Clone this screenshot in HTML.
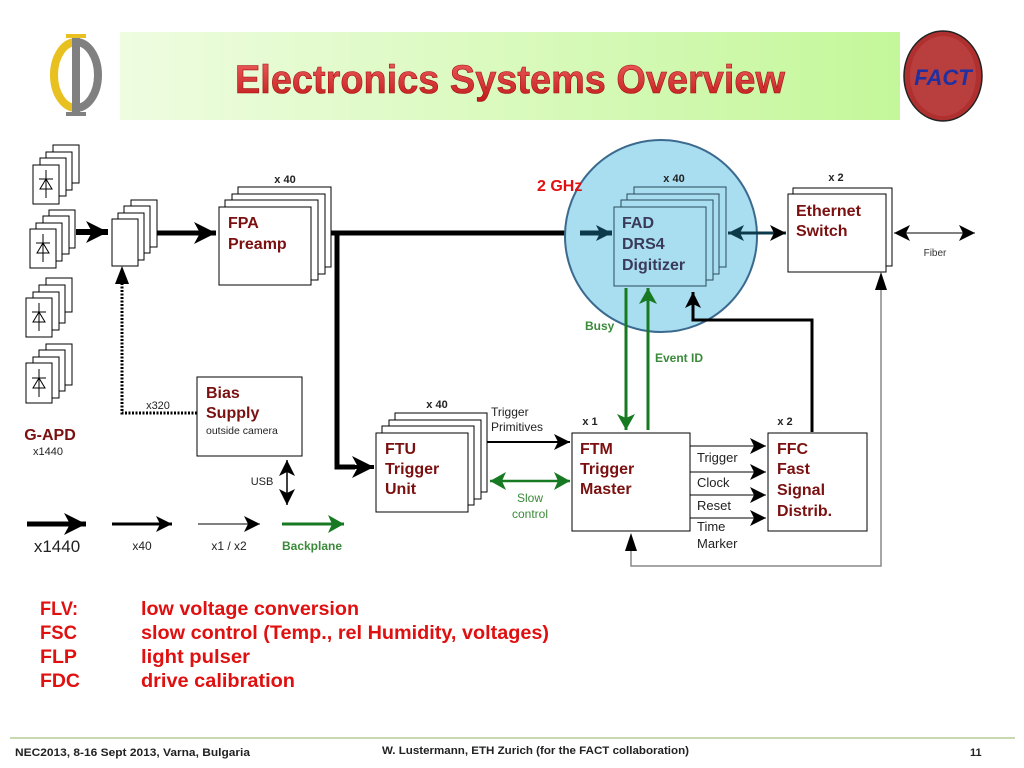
<!DOCTYPE html>
<html><head><meta charset="utf-8"><style>
html,body{margin:0;padding:0;background:#fff;width:1024px;height:768px;overflow:hidden}
svg{display:block}
text{font-family:"Liberation Sans",sans-serif}
</style></head><body>
<svg width="1024" height="768" viewBox="0 0 1024 768" xmlns="http://www.w3.org/2000/svg">
<defs>
<linearGradient id="hg" x1="0" y1="0" x2="1" y2="0">
<stop offset="0" stop-color="#eefce0"/><stop offset="1" stop-color="#c4f79a"/></linearGradient>
<linearGradient id="tg" x1="0" y1="0" x2="0" y2="1">
<stop offset="0" stop-color="#f06060"/><stop offset="1" stop-color="#c01818"/></linearGradient>
<marker id="ak" markerUnits="userSpaceOnUse" markerWidth="30" markerHeight="22" refX="22" refY="11" orient="auto-start-reverse"><path d="M0,0 L22,11 L0,22 L6,11z" fill="#000"/></marker>
<marker id="am" markerUnits="userSpaceOnUse" markerWidth="22" markerHeight="16" refX="16" refY="8" orient="auto-start-reverse"><path d="M0,0 L16,8 L0,16 L4,8z" fill="#000"/></marker>
<marker id="ad" markerUnits="userSpaceOnUse" markerWidth="22" markerHeight="16" refX="16" refY="8" orient="auto-start-reverse"><path d="M0,0 L16,8 L0,16 L4,8z" fill="#0d3a4a"/></marker>
<marker id="ag" markerUnits="userSpaceOnUse" markerWidth="22" markerHeight="18" refX="16" refY="9" orient="auto-start-reverse"><path d="M0,0 L16,9 L0,18 L4,9z" fill="#177a22"/></marker>
<g id="diode"><line x1="0" y1="-14" x2="0" y2="14" stroke="#000" stroke-width="1"/><line x1="-7" y1="-5" x2="7" y2="-5" stroke="#000"/><path d="M-6,5 L6,5 L0,-5z" fill="none" stroke="#000"/></g>
</defs>

<!-- header -->
<rect x="120" y="32" width="780" height="88" fill="url(#hg)"/>
<text x="510" y="93" text-anchor="middle" font-size="40" font-weight="bold" fill="url(#tg)" stroke="#a01010" stroke-width="0.6" textLength="550" lengthAdjust="spacingAndGlyphs">Electronics Systems Overview</text>
<!-- phi logo -->
<path d="M76,42 a22,33 0 0 0 0,66" fill="none" stroke="#e8c020" stroke-width="8"/>
<path d="M76,42 a22,33 0 0 1 0,66" fill="none" stroke="#808080" stroke-width="8"/>
<rect x="72" y="34" width="8" height="82" fill="#808080"/>
<rect x="66" y="34" width="20" height="4" fill="#e8c020"/>
<rect x="66" y="112" width="20" height="4" fill="#808080"/>
<!-- FACT logo -->
<ellipse cx="943" cy="76" rx="39" ry="45" fill="#b03030" stroke="#222" stroke-width="1.5"/>
<ellipse cx="943" cy="76" rx="33" ry="40" fill="#c04848" opacity="0.6"/>
<text x="943" y="85" text-anchor="middle" font-size="22" font-weight="bold" font-style="italic" fill="#2030a0">FACT</text>

<!-- APD stacks -->
<g fill="#fff" stroke="#000" stroke-width="1">
<rect x="53" y="145" width="26" height="38"/><rect x="46" y="152" width="26" height="38"/><rect x="40" y="158" width="26" height="38"/><rect x="33" y="165" width="26" height="39"/>
<rect x="49" y="210" width="26" height="38"/><rect x="43" y="216" width="26" height="38"/><rect x="36" y="223" width="26" height="38"/><rect x="30" y="229" width="26" height="39"/>
<rect x="46" y="278" width="26" height="34"/><rect x="39" y="285" width="26" height="38"/><rect x="33" y="292" width="26" height="38"/><rect x="26" y="298" width="26" height="39"/>
<rect x="46" y="344" width="26" height="41"/><rect x="39" y="350" width="26" height="41"/><rect x="33" y="357" width="26" height="41"/><rect x="26" y="363" width="26" height="40"/>
</g>
<use href="#diode" x="46" y="184"/><use href="#diode" x="43" y="248"/><use href="#diode" x="39" y="317"/><use href="#diode" x="39" y="383"/>
<text x="50" y="440" text-anchor="middle" font-size="16" font-weight="bold" fill="#7a1010">G-APD</text>
<text x="48" y="455" text-anchor="middle" font-size="11" fill="#222">x1440</text>

<!-- thick arrows -->
<line x1="76" y1="232" x2="108" y2="232" stroke="#000" stroke-width="6" marker-end="url(#ak)"/>
<g fill="#fff" stroke="#000"><rect x="131" y="200" width="26" height="47"/><rect x="124" y="206" width="26" height="47"/><rect x="118" y="213" width="26" height="47"/><rect x="112" y="219" width="26" height="47"/></g>
<line x1="157" y1="233" x2="216" y2="233" stroke="#000" stroke-width="5" marker-end="url(#ak)"/>
<!-- FPA -->
<g fill="#fff" stroke="#000"><rect x="238" y="187" width="93" height="80"/><rect x="232" y="194" width="93" height="80"/><rect x="225" y="200" width="93" height="80"/><rect x="219" y="207" width="92" height="78"/></g>
<text x="285" y="183" text-anchor="middle" font-size="11" font-weight="bold" fill="#222">x 40</text>
<text x="228" y="228" font-size="16" font-weight="bold" fill="#7a1010">FPA</text>
<text x="228" y="249" font-size="16" font-weight="bold" fill="#7a1010">Preamp</text>
<!-- main bus -->
<line x1="331" y1="233" x2="612" y2="233" stroke="#000" stroke-width="5"/>
<polyline points="337,233 337,467 355,467" fill="none" stroke="#000" stroke-width="5"/>
<line x1="350" y1="467" x2="374" y2="467" stroke="#000" stroke-width="4" marker-end="url(#ak)"/>
<!-- dotted bias -->
<polyline points="197,413 122,413 122,282" fill="none" stroke="#000" stroke-width="3" stroke-dasharray="2,1.5"/>
<path d="M115,284 L122,266 L129,284z" fill="#000"/>
<text x="158" y="409" text-anchor="middle" font-size="11" fill="#222">x320</text>
<rect x="197" y="377" width="105" height="79" fill="#fff" stroke="#000"/>
<text x="206" y="398" font-size="16" font-weight="bold" fill="#7a1010">Bias</text>
<text x="206" y="418" font-size="16" font-weight="bold" fill="#7a1010">Supply</text>
<text x="206" y="434" font-size="10.5" fill="#222">outside camera</text>
<line x1="287" y1="460" x2="287" y2="505" stroke="#000" stroke-width="1.5" marker-start="url(#am)" marker-end="url(#am)"/>
<text x="262" y="485" text-anchor="middle" font-size="11" fill="#222">USB</text>
<!-- legend -->
<line x1="27" y1="524" x2="86" y2="524" stroke="#000" stroke-width="5" marker-end="url(#ak)"/>
<line x1="112" y1="524" x2="172" y2="524" stroke="#000" stroke-width="3" marker-end="url(#am)"/>
<line x1="198" y1="524" x2="260" y2="524" stroke="#000" stroke-width="1" marker-end="url(#am)"/>
<line x1="282" y1="524" x2="344" y2="524" stroke="#177a22" stroke-width="3" marker-end="url(#ag)"/>
<text x="57" y="552" text-anchor="middle" font-size="17" fill="#222">x1440</text>
<text x="142" y="550" text-anchor="middle" font-size="12" fill="#222">x40</text>
<text x="229" y="550" text-anchor="middle" font-size="12" fill="#222">x1 / x2</text>
<text x="312" y="550" text-anchor="middle" font-size="12" font-weight="bold" fill="#3a8a3a">Backplane</text>

<!-- FTU -->
<g fill="#fff" stroke="#000"><rect x="395" y="413" width="92" height="79"/><rect x="389" y="420" width="92" height="79"/><rect x="382" y="426" width="92" height="79"/><rect x="376" y="433" width="92" height="79"/></g>
<text x="437" y="408" text-anchor="middle" font-size="11" font-weight="bold" fill="#222">x 40</text>
<text x="385" y="454" font-size="16" font-weight="bold" fill="#7a1010">FTU</text>
<text x="385" y="474" font-size="16" font-weight="bold" fill="#7a1010">Trigger</text>
<text x="385" y="494" font-size="16" font-weight="bold" fill="#7a1010">Unit</text>
<line x1="487" y1="442" x2="570" y2="442" stroke="#000" stroke-width="2" marker-end="url(#am)"/>
<text x="491" y="416" font-size="12" fill="#222">Trigger</text>
<text x="491" y="431" font-size="12" fill="#222">Primitives</text>
<line x1="490" y1="481" x2="570" y2="481" stroke="#177a22" stroke-width="2.5" marker-start="url(#ag)" marker-end="url(#ag)"/>
<text x="530" y="502" text-anchor="middle" font-size="12" fill="#3a8a3a">Slow</text>
<text x="530" y="518" text-anchor="middle" font-size="12" fill="#3a8a3a">control</text>

<!-- FAD circle -->
<circle cx="661" cy="236" r="96" fill="#a8def0" stroke="#3b6a8e" stroke-width="2"/>
<text x="537" y="191" font-size="16" font-weight="bold" fill="#e01010">2 GHz</text>
<line x1="580" y1="233" x2="612" y2="233" stroke="#0d3a4a" stroke-width="5" marker-end="url(#ad)"/>
<g fill="#a8def0" stroke="#2a4a5a"><rect x="634" y="187" width="92" height="80"/><rect x="627" y="194" width="92" height="80"/><rect x="621" y="200" width="92" height="80"/><rect x="614" y="207" width="92" height="79"/></g>
<text x="674" y="182" text-anchor="middle" font-size="11" font-weight="bold" fill="#222">x 40</text>
<text x="622" y="228" font-size="16" font-weight="bold" fill="#3a3a5a">FAD</text>
<text x="622" y="249" font-size="16" font-weight="bold" fill="#3a3a5a">DRS4</text>
<text x="622" y="270" font-size="16" font-weight="bold" fill="#3a3a5a">Digitizer</text>
<line x1="728" y1="233" x2="786" y2="233" stroke="#0d3a4a" stroke-width="3" marker-start="url(#ad)" marker-end="url(#am)"/>
<!-- Ethernet -->
<g fill="#fff" stroke="#000"><rect x="793" y="188" width="99" height="78"/><rect x="788" y="194" width="98" height="78"/></g>
<text x="836" y="181" text-anchor="middle" font-size="11" font-weight="bold" fill="#222">x 2</text>
<text x="796" y="216" font-size="16" font-weight="bold" fill="#7a1010">Ethernet</text>
<text x="796" y="236" font-size="16" font-weight="bold" fill="#7a1010">Switch</text>
<line x1="894" y1="233" x2="975" y2="233" stroke="#000" stroke-width="1" marker-start="url(#am)" marker-end="url(#am)"/>
<text x="935" y="256" text-anchor="middle" font-size="10" fill="#333">Fiber</text>
<!-- Busy / Event ID -->
<line x1="626" y1="288" x2="626" y2="430" stroke="#177a22" stroke-width="3" marker-end="url(#ag)"/>
<line x1="648" y1="430" x2="648" y2="288" stroke="#177a22" stroke-width="3" marker-end="url(#ag)"/>
<text x="585" y="330" font-size="12" font-weight="bold" fill="#3a8a3a">Busy</text>
<text x="655" y="362" font-size="12" font-weight="bold" fill="#3a8a3a">Event ID</text>
<polyline points="812,432 812,320 693,320 693,292" fill="none" stroke="#000" stroke-width="3" marker-end="url(#am)"/>
<!-- FTM -->
<rect x="572" y="433" width="118" height="98" fill="#fff" stroke="#000"/>
<text x="590" y="425" text-anchor="middle" font-size="11" font-weight="bold" fill="#222">x 1</text>
<text x="580" y="454" font-size="16" font-weight="bold" fill="#7a1010">FTM</text>
<text x="580" y="474" font-size="16" font-weight="bold" fill="#7a1010">Trigger</text>
<text x="580" y="494" font-size="16" font-weight="bold" fill="#7a1010">Master</text>
<!-- FFC -->
<rect x="768" y="433" width="99" height="98" fill="#fff" stroke="#000"/>
<text x="785" y="425" text-anchor="middle" font-size="11" font-weight="bold" fill="#222">x 2</text>
<text x="777" y="454" font-size="16" font-weight="bold" fill="#7a1010">FFC</text>
<text x="777" y="474" font-size="16" font-weight="bold" fill="#7a1010">Fast</text>
<text x="777" y="495" font-size="16" font-weight="bold" fill="#7a1010">Signal</text>
<text x="777" y="516" font-size="16" font-weight="bold" fill="#7a1010">Distrib.</text>
<g stroke="#000" stroke-width="1">
<line x1="690" y1="446" x2="766" y2="446" marker-end="url(#am)"/>
<line x1="690" y1="472" x2="766" y2="472" marker-end="url(#am)"/>
<line x1="690" y1="495" x2="766" y2="495" marker-end="url(#am)"/>
<line x1="690" y1="518" x2="766" y2="518" marker-end="url(#am)"/>
</g>
<g font-size="13" fill="#222"><text x="697" y="462">Trigger</text><text x="697" y="487">Clock</text><text x="697" y="510">Reset</text><text x="697" y="531">Time</text><text x="697" y="548">Marker</text></g>
<polyline points="631,548 631,566 881,566 881,288" fill="none" stroke="#888" stroke-width="1.5"/>
<path d="M625,551 L631,533 L637,551z" fill="#000"/>
<path d="M875,290 L881,272 L887,290z" fill="#000"/>

<!-- list -->
<g font-size="19" font-weight="bold" fill="#e01010">
<text x="40" y="615" textLength="38" lengthAdjust="spacingAndGlyphs">FLV:</text><text x="141" y="615" textLength="218" lengthAdjust="spacingAndGlyphs">low voltage conversion</text>
<text x="40" y="639" textLength="37" lengthAdjust="spacingAndGlyphs">FSC</text><text x="141" y="639" textLength="408" lengthAdjust="spacingAndGlyphs">slow control (Temp., rel Humidity, voltages)</text>
<text x="40" y="663" textLength="37" lengthAdjust="spacingAndGlyphs">FLP</text><text x="141" y="663" textLength="109" lengthAdjust="spacingAndGlyphs">light pulser</text>
<text x="40" y="687" textLength="40" lengthAdjust="spacingAndGlyphs">FDC</text><text x="141" y="687" textLength="154" lengthAdjust="spacingAndGlyphs">drive calibration</text>
</g>
<line x1="10" y1="738" x2="1015" y2="738" stroke="#b8cc98" stroke-width="1.5"/>
<g font-size="11" font-weight="bold" fill="#222">
<text x="15" y="756" textLength="235" lengthAdjust="spacingAndGlyphs">NEC2013, 8-16 Sept 2013, Varna, Bulgaria</text>
<text x="382" y="754" textLength="307" lengthAdjust="spacingAndGlyphs">W. Lustermann, ETH Zurich (for the FACT collaboration)</text>
<text x="970" y="756">11</text>
</g>
</svg>
</body></html>
